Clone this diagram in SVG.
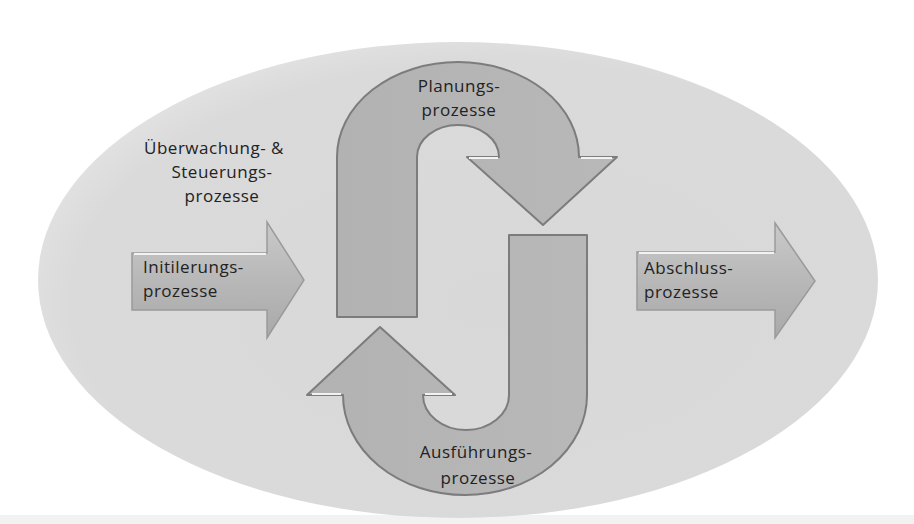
<svg xmlns="http://www.w3.org/2000/svg" width="914" height="524" viewBox="0 0 914 524">
  <defs>
    <radialGradient id="bgEll" cx="0.55" cy="0.55" r="0.6">
      <stop offset="0" stop-color="#d8d8d8"/>
      <stop offset="0.85" stop-color="#dadada"/>
      <stop offset="1" stop-color="#e4e4e4"/>
    </radialGradient>
    <linearGradient id="sideArrow" x1="0" y1="0" x2="0" y2="1">
      <stop offset="0" stop-color="#c9c9c9"/>
      <stop offset="0.5" stop-color="#b8b8b8"/>
      <stop offset="1" stop-color="#a9a9a9"/>
    </linearGradient>
    <linearGradient id="uFill" x1="0" y1="0" x2="1" y2="0">
      <stop offset="0" stop-color="#b2b2b2"/>
      <stop offset="1" stop-color="#b8b8b8"/>
    </linearGradient>
  </defs>
  <style>
    .u { fill: url(#uFill); stroke: #7c7c7c; stroke-width: 2; stroke-linejoin: round; }
    .side { fill: url(#sideArrow); stroke: #9a9a9a; stroke-width: 1.5; stroke-linejoin: miter; }
    .hl { fill: none; stroke: #f2f2f2; stroke-width: 2; }
    .t { font-family: "Open Sans", "Noto Sans", "DejaVu Sans", sans-serif; font-size: 17px; fill: #222222; letter-spacing: 0.5px; }
    .c { text-anchor: middle; }
  </style>

  <rect x="0" y="0" width="914" height="524" fill="#ffffff"/>
  <rect x="0" y="515" width="914" height="9" fill="#f2f2f2"/>

  <g id="background">
    <ellipse cx="458" cy="280" rx="420" ry="238" fill="url(#bgEll)"/>
  </g>

  <g id="connectors"></g>

  <g id="planung">
    <path class="u" d="M337,317 L337,157 A121,95 0 0 1 579,157 L617,157 L543,225 L467,157 L499,157 A41,32 0 0 0 417,157 L417,317 Z"/>
    <path class="hl" d="M469,158 L498,158 M581,158 L612,158"/>
    <text class="t c" x="459" y="92">Planungs-</text>
    <text class="t c" x="459" y="116">prozesse</text>
  </g>

  <g id="ausfuehrung">
    <path class="u" d="M587,235 L587,395 A122,100 0 0 1 343,395 L307,395 L380,327 L455,395 L423,395 A43,35 0 0 0 509,395 L509,235 Z"/>
    <path class="hl" d="M312,394 L341,394 M425,394 L452,394"/>
    <text class="t c" x="476" y="458">Ausführungs-</text>
    <text class="t c" x="478" y="484">prozesse</text>
  </g>

  <g id="ueberwachung">
    <text class="t c" x="214" y="154">Überwachung- &amp;</text>
    <text class="t c" x="222" y="178">Steuerungs-</text>
    <text class="t c" x="222" y="202">prozesse</text>
  </g>

  <g id="initiierung">
    <path class="side" d="M132,253 L267,253 L267,222 L304,280 L267,338 L267,310 L132,310 Z"/>
    <path class="hl" d="M134,254 L266,254"/>
    <text class="t" x="143" y="273">Initilerungs-</text>
    <text class="t" x="143" y="297">prozesse</text>
  </g>

  <g id="abschluss">
    <path class="side" d="M637,252 L775,252 L775,223 L815,281 L775,338 L775,310 L637,310 Z"/>
    <path class="hl" d="M639,253 L774,253"/>
    <text class="t" x="644" y="274">Abschluss-</text>
    <text class="t" x="644" y="298">prozesse</text>
  </g>
</svg>
